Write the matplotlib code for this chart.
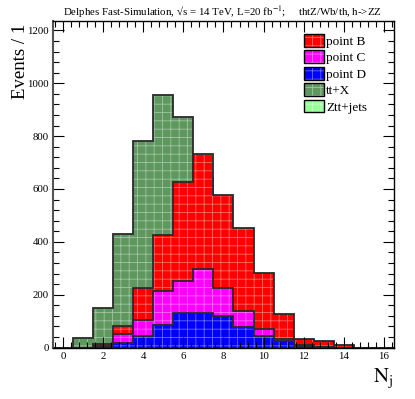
import matplotlib
matplotlib.use('Agg')
import matplotlib.pyplot as plt
from matplotlib.patches import Patch
from matplotlib.ticker import MultipleLocator
import numpy as np

# N_j bins 0..16
nj = list(range(17))
ttx    = [0, 35, 151, 428, 783, 954, 872, 640, 410, 230, 110, 40, 12, 3, 1, 0, 0]
pointB = [0, 0, 15, 83, 227, 426, 627, 731, 577, 453, 283, 127, 32, 23, 10, 0, 0]
pointC = [0, 0, 6, 52, 105, 215, 252, 296, 224, 139, 69, 33, 8, 3, 0, 0, 0]
pointD = [0, 0, 3, 17, 45, 86, 130, 132, 121, 77, 44, 23, 5, 1, 0, 0, 0]
zttjets = [0] * 17

names = ['point B', 'point C', 'point D', 'tt+X', 'Ztt+jets']
colors = ['#ff0000', '#ff00ff', '#0000ff', '#5f985f', '#99ff99']
grid_col = (1, 1, 1, 0.42)

plt.rcParams['font.family'] = ['Liberation Serif', 'DejaVu Serif']
plt.rcParams['mathtext.fontset'] = 'stix'
plt.rcParams['hatch.linewidth'] = 0.6

fig = plt.figure(figsize=(4.15, 3.99), dpi=100)
ax = fig.add_axes([0.128, 0.129, 0.821, 0.818])

edges = np.arange(-0.5, 17.0, 1.0)
# overlaid histograms, biggest drawn first
for vals, c in [(ttx, colors[3]), (pointB, colors[0]), (pointC, colors[1]), (pointD, colors[2])]:
    ax.bar(nj, vals, width=1.0, color=c, edgecolor=grid_col, linewidth=0.01, hatch='++')
    ax.stairs(vals, edges, baseline=0, fill=False, color='#2a2a2a', linewidth=1.3)

ax.set_xlim(-0.5, 16.5)
ax.set_ylim(0, 1235)
ax.xaxis.set_major_locator(MultipleLocator(2))
ax.xaxis.set_minor_locator(MultipleLocator(0.4))
ax.yaxis.set_major_locator(MultipleLocator(200))
ax.yaxis.set_minor_locator(MultipleLocator(40))
ax.tick_params(which='both', direction='in', top=True, right=True, labelsize=7.8, pad=3)
ax.tick_params(which='major', length=8, width=0.8)
ax.tick_params(which='minor', length=4, width=0.8)
for s in ax.spines.values():
    s.set_linewidth(1.0)
ax.spines['left'].set_color('#555555')
ax.spines['left'].set_linewidth(1.5)

fig.text(0.05, 0.94, 'Events / 1', rotation=90, ha='center', va='top', fontsize=13.5)
fig.text(0.898, 0.043, r'$\mathrm{N_{j}}$', ha='left', va='baseline', fontsize=15)
fig.text(0.535, 0.969, 'Delphes Fast-Simulation, \u221As = 14 TeV, L=20 fb$^{-1}$;     thtZ/Wb/th, h->ZZ',
         ha='center', va='center', fontsize=7.8)

handles = [(Patch(facecolor=c, edgecolor=grid_col, hatch='++', linewidth=0.01),
            Patch(facecolor='none', edgecolor='black', linewidth=1.0)) for c in colors]
ax.legend(handles, names, loc='upper right', bbox_to_anchor=(0.945, 0.985), frameon=False,
          fontsize=9.5, handlelength=1.45, handleheight=1.1, handletextpad=0.2, labelspacing=0.2,
          borderaxespad=0.2)

fig.savefig('out.png', dpi=100)
